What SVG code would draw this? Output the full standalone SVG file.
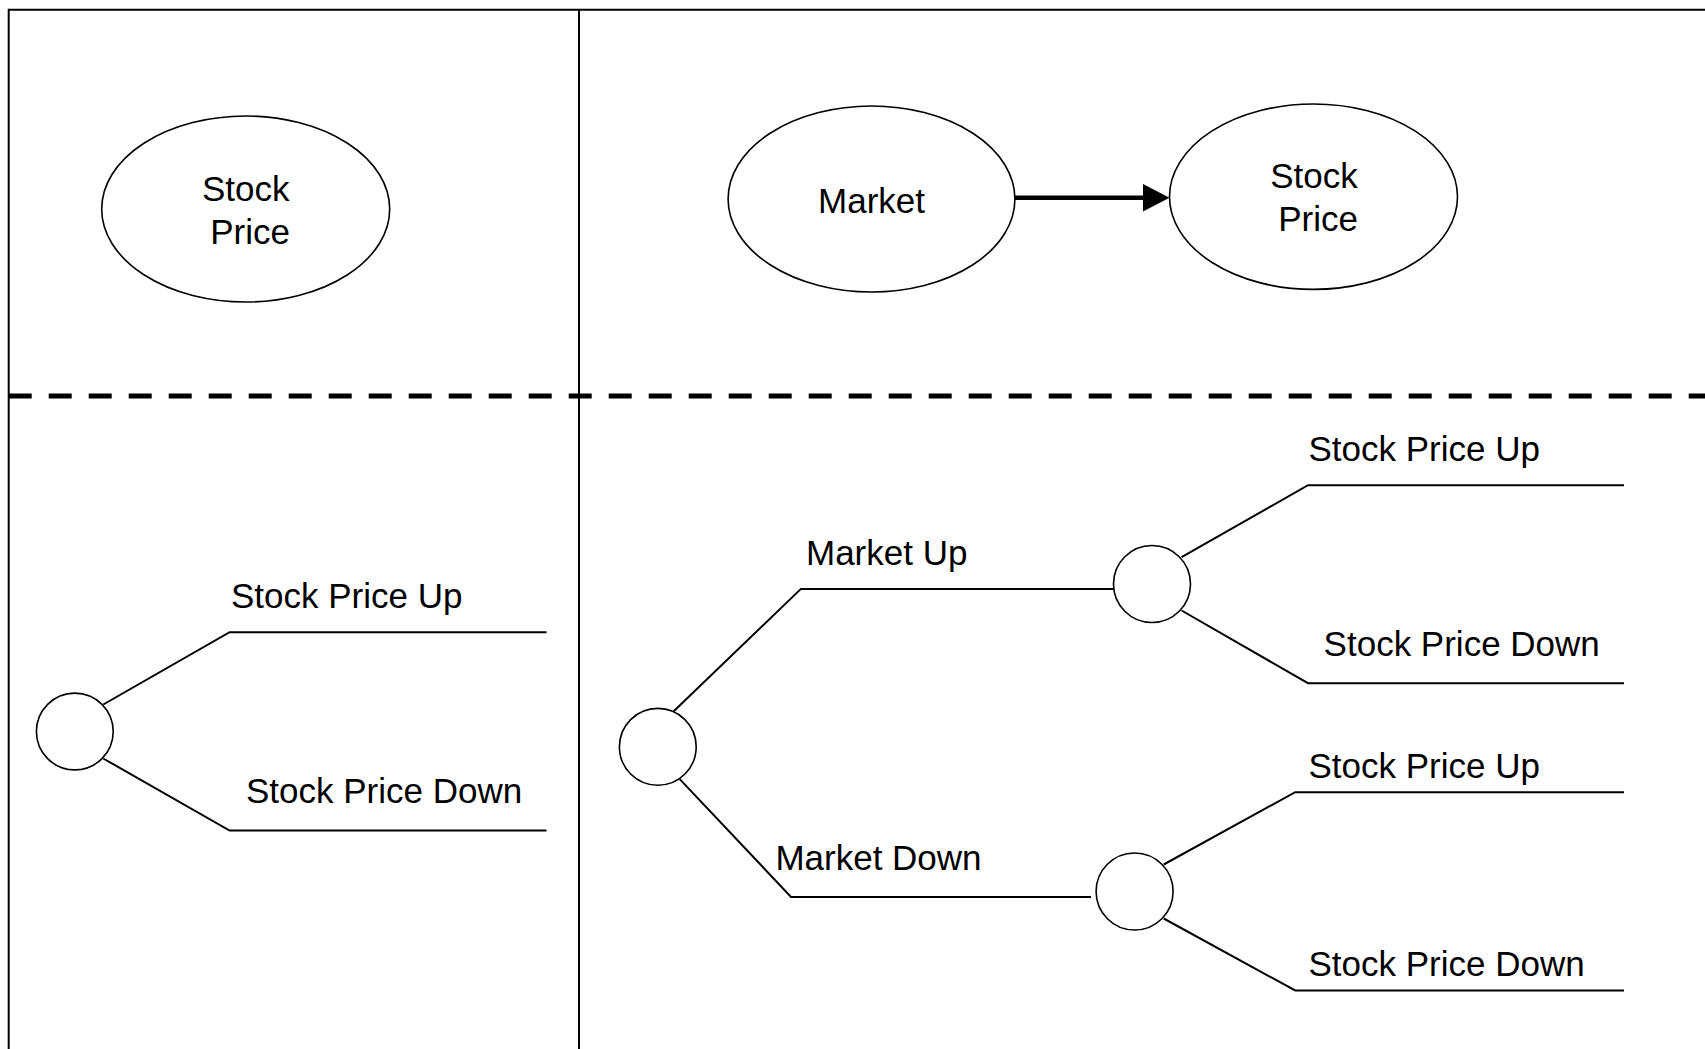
<svg xmlns="http://www.w3.org/2000/svg" width="1705" height="1049" viewBox="0 0 1705 1049">
<style>
.t{font-family:"Liberation Sans",Arial,sans-serif;font-size:35px;fill:#000}
.m{text-anchor:middle}
.n{fill:#fff;stroke:#000;stroke-width:1.6}
.l{fill:none;stroke:#000;stroke-width:2}
</style>
<rect width="1705" height="1049" fill="#fff"/>
<g id="frame">
<path d="M8.7,1049 V9.8 H1705" class="l"/>
<line x1="579" y1="9.8" x2="579" y2="1049" class="l"/>
<line x1="8.7" y1="396" x2="1705" y2="396" stroke="#000" stroke-width="5" stroke-dasharray="23 17"/>
</g>
<g id="connectors">
<line x1="1015" y1="197.8" x2="1146" y2="197.8" stroke="#000" stroke-width="4.5"/>
<polygon points="1169.5,197.8 1143,184 1143,211.5" fill="#000"/>
<g transform="translate(0,1.2)">
<polyline points="103.3,703.3 229.6,631 546.5,631" class="l"/>
<polyline points="103.3,757.3 229.6,829.3 546.5,829.3" class="l"/>
<polyline points="673.7,710 800.9,587.7 1113.6,587.7" class="l"/>
<polyline points="679.5,777.7 791,895.7 1091,895.7" class="l"/>
<polyline points="1181.6,556 1308,484 1624,484" class="l"/>
<polyline points="1181.6,609.3 1308,682 1624,682" class="l"/>
<polyline points="1163.7,863.3 1295.2,791 1624,791" class="l"/>
<polyline points="1163.7,917.3 1295.2,989.3 1624,989.3" class="l"/>
</g>
</g>
<g id="node-stock-price-left">
<ellipse cx="245.7" cy="209" rx="144" ry="93" class="n"/>
<text x="245.7" y="201" class="t m">Stock</text>
<text x="250" y="244" class="t m">Price</text>
</g>
<g id="node-market">
<ellipse cx="871.5" cy="199" rx="143.4" ry="93" class="n"/>
<text x="871.5" y="212.5" class="t m">Market</text>
</g>
<g id="node-stock-price-right">
<ellipse cx="1313.5" cy="196.7" rx="144" ry="92.7" class="n"/>
<text x="1314" y="188" class="t m">Stock</text>
<text x="1318" y="231" class="t m">Price</text>
</g>
<g id="chance-left">
<circle cx="74.8" cy="731.5" r="38.4" class="n"/>
</g>
<g id="chance-root">
<circle cx="657.8" cy="746.8" r="38.4" class="n"/>
</g>
<g id="chance-market-up">
<circle cx="1152" cy="584" r="38.5" class="n"/>
</g>
<g id="chance-market-down">
<circle cx="1134.6" cy="891.5" r="38.5" class="n"/>
</g>
<g id="labels">
<text x="231" y="607.5" class="t">Stock Price Up</text>
<text x="246" y="803.3" class="t">Stock Price Down</text>
<text x="806" y="564.5" class="t">Market Up</text>
<text x="775.4" y="870" class="t">Market Down</text>
<text x="1308.5" y="461" class="t">Stock Price Up</text>
<text x="1323.6" y="656.3" class="t">Stock Price Down</text>
<text x="1308.5" y="778" class="t">Stock Price Up</text>
<text x="1308.5" y="976.2" class="t">Stock Price Down</text>
</g>
</svg>
